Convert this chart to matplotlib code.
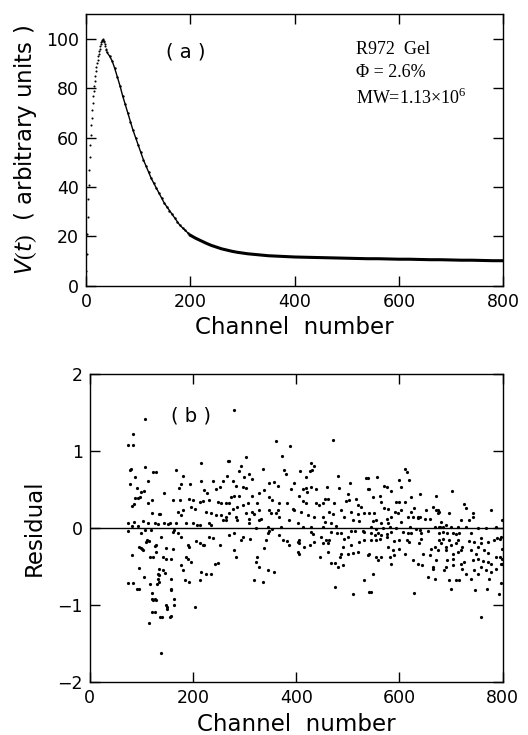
import numpy as np
import matplotlib
matplotlib.use("Agg")
import matplotlib.pyplot as plt

plt.rcParams['font.family'] = 'DejaVu Sans'
plt.rcParams['mathtext.fontset'] = 'custom'
plt.rcParams['mathtext.rm'] = 'Liberation Serif'
plt.rcParams['mathtext.it'] = 'DejaVu Sans:italic'

# ---- panel (a): measured V(t) ----
chan_rise = [0, 1, 2, 3, 4, 5, 6, 7, 8, 9, 10, 11, 12, 13, 14, 15, 16, 17, 18, 19, 20,
             21, 22, 23, 24, 25, 26, 27, 28, 29, 30, 31, 32, 33, 34, 35, 36, 37, 38, 39, 40]
v_rise = [6, 13, 21, 28, 35, 41, 47, 52, 57, 61, 65, 68, 71, 74, 77, 79, 81, 83, 85, 87, 88.5,
          90, 91.5, 93, 94, 95, 96, 97, 98, 98.5, 99, 99.5, 100, 99.5, 99, 98.5, 98, 97, 96, 95.5, 94.5]
chan_decay = [45, 50, 55, 60, 65, 70, 75, 80, 85, 90, 95, 100, 105, 110, 115, 120, 125, 130,
              135, 140, 145, 150, 155, 160, 165, 170, 175, 180, 185, 190, 195, 200]
v_decay = [93, 91, 88, 84.5, 81, 77, 73.5, 70, 66.5, 63, 60, 57, 54, 51, 48.5, 46, 43.5, 41.5,
           39.5, 37.5, 35.5, 33.5, 32, 30.5, 29, 27.5, 26, 24.5, 23.5, 22.5, 21.5, 20.5]
chan_tail = [210, 220, 230, 240, 250, 260, 270, 280, 290, 300, 310, 320, 330, 340, 350, 360,
             370, 380, 390, 400, 420, 440, 460, 480, 500, 520, 540, 560, 580, 600, 620, 640,
             660, 680, 700, 720, 740, 760, 780, 800]
v_tail = [19.3, 18.3, 17.3, 16.4, 15.7, 15.0, 14.5, 14.0, 13.6, 13.3, 13.0, 12.8, 12.6, 12.4,
          12.2, 12.1, 12.0, 11.9, 11.8, 11.7, 11.6, 11.5, 11.4, 11.3, 11.2, 11.1, 11.0, 11.0,
          10.9, 10.8, 10.8, 10.7, 10.6, 10.6, 10.5, 10.4, 10.4, 10.3, 10.2, 10.2]

# ---- panel (b): residuals, read segment by segment ----
ch_b1 = [107, 83, 75, 84, 77, 80, 107, 122, 128, 88, 113, 78, 92, 99, 106, 88, 94, 97, 120, 85,
         82, 113, 120, 136, 75, 86, 104, 112, 126, 132, 93, 81, 119, 107, 74, 99, 114, 111, 108, 129,
         126, 95, 99, 101, 103, 129, 117, 122, 81, 96, 134, 105, 134, 131, 74, 84, 91, 95, 117, 121,
         126, 129, 126, 115, 138, 121, 136, 121, 122]
res_b1 = [1.42, 1.22, 1.08, 1.08, 0.76, 0.77, 0.80, 0.73, 0.73, 0.66, 0.61, 0.57, 0.52, 0.47, 0.48,
          0.39, 0.39, 0.40, 0.36, 0.31, 0.29, 0.32, 0.19, 0.18, 0.06, 0.08, 0.09, 0.07, 0.06, 0.05,
          0.03, 0.03, -0.02, -0.02, -0.04, -0.06, -0.17, -0.16, -0.18, -0.22, -0.23, -0.24, -0.26,
          -0.27, -0.28, -0.31, -0.38, -0.38, -0.35, -0.52, -0.61, -0.64, -0.70, -0.72, -0.71, -0.71,
          -0.79, -0.79, -0.72, -0.84, -0.92, -0.93, -1.09, -1.23, -1.62, -1.09, -1.15, -0.92, -0.93]

ch_b2 = [216, 168, 180, 268, 266, 215, 239, 258, 144, 176, 172, 195, 222, 228, 245, 252, 161, 174,
         193, 200, 213, 219, 232, 248, 255, 264, 197, 203, 171, 180, 177, 226, 235, 245, 255, 264,
         258, 264, 135, 155, 151, 144, 168, 187, 200, 208, 213, 232, 235, 164, 161, 171, 176, 138,
         206, 213, 219, 222, 190, 193, 232, 239, 252, 148, 161, 142, 148, 158, 187, 190, 197, 177,
         180, 135, 142, 145, 216, 226, 213, 235, 242, 248, 157, 184, 193, 158, 157, 133, 133, 164,
         150, 164, 203, 140, 157, 147, 150, 155]
res_b2 = [0.84, 0.76, 0.68, 0.87, 0.68, 0.61, 0.61, 0.61, 0.45, 0.57, 0.52, 0.57, 0.50, 0.45, 0.51,
          0.53, 0.37, 0.37, 0.38, 0.37, 0.34, 0.35, 0.36, 0.34, 0.32, 0.32, 0.27, 0.25, 0.21, 0.23,
          0.17, 0.21, 0.19, 0.17, 0.17, 0.15, 0.10, 0.11, 0.18, 0.06, 0.05, 0.06, 0.06, 0.06, 0.06,
          0.04, 0.04, 0.06, 0.04, -0.03, -0.05, -0.07, -0.12, -0.11, -0.17, -0.19, -0.22, -0.22,
          -0.22, -0.25, -0.11, -0.13, -0.22, -0.26, -0.27, -0.38, -0.40, -0.40, -0.38, -0.40, -0.44,
          -0.48, -0.54, -0.53, -0.54, -0.58, -0.57, -0.59, -0.68, -0.60, -0.46, -0.45, -0.66, -0.68,
          -0.70, -0.79, -0.81, -0.59, -0.66, -0.92, -1.02, -1.00, -1.03, -1.15, -1.14, -1.00, -1.05,
          -1.15]

ch_b3 = [279, 361, 388, 372, 270, 303, 293, 290, 298, 309, 315, 335, 377, 380, 277, 283, 348, 357,
         364, 296, 303, 273, 280, 290, 315, 328, 337, 396, 390, 348, 354, 270, 296, 306, 325, 367,
         383, 277, 286, 328, 348, 364, 393, 396, 315, 319, 270, 283, 286, 303, 309, 332, 351, 361,
         367, 386, 309, 328, 345, 354, 370, 403, 322, 270, 280, 296, 293, 311, 345, 348, 367, 374,
         383, 386, 403, 403, 280, 283, 341, 338, 325, 322, 328, 345, 357, 319, 335]
res_b3 = [1.53, 1.13, 1.06, 0.94, 0.87, 0.92, 0.81, 0.74, 0.67, 0.70, 0.64, 0.77, 0.76, 0.70, 0.61,
          0.55, 0.58, 0.60, 0.55, 0.54, 0.52, 0.40, 0.42, 0.42, 0.42, 0.45, 0.49, 0.58, 0.51, 0.40,
          0.37, 0.32, 0.30, 0.33, 0.32, 0.32, 0.32, 0.25, 0.27, 0.24, 0.23, 0.24, 0.25, 0.23, 0.21,
          0.18, 0.19, 0.14, 0.11, 0.19, 0.12, 0.12, 0.19, 0.19, 0.14, 0.10, 0.06, 0.10, 0.02, -0.01,
          0.02, 0.06, 0.00, -0.09, -0.07, -0.12, -0.16, -0.14, -0.06, -0.04, -0.09, -0.16, -0.17,
          -0.22, -0.18, -0.31, -0.28, -0.38, -0.16, -0.26, -0.38, -0.44, -0.50, -0.54, -0.57, -0.68,
          -0.70]

ch_b4 = [471, 428, 434, 408, 426, 430, 419, 481, 535, 413, 419, 428, 439, 460, 482, 505, 539, 406,
         421, 413, 419, 439, 445, 451, 455, 461, 473, 500, 497, 503, 516, 519, 526, 409, 422, 435,
         464, 471, 486, 493, 506, 519, 532, 451, 455, 468, 477, 510, 522, 413, 429, 451, 506, 513,
         529, 532, 429, 468, 479, 487, 406, 432, 448, 458, 464, 493, 500, 522, 532, 406, 416, 426,
         434, 451, 461, 490, 506, 510, 519, 539, 406, 461, 447, 484, 487, 500, 468, 475, 481, 490,
         475, 510, 532, 542]
res_b4 = [1.15, 0.84, 0.81, 0.74, 0.74, 0.76, 0.67, 0.68, 0.65, 0.51, 0.52, 0.54, 0.51, 0.53, 0.52,
          0.58, 0.51, 0.42, 0.47, 0.35, 0.32, 0.32, 0.30, 0.32, 0.38, 0.38, 0.32, 0.44, 0.35, 0.37,
          0.38, 0.30, 0.27, 0.21, 0.17, 0.14, 0.21, 0.18, 0.24, 0.14, 0.21, 0.18, 0.19, 0.14, 0.08,
          0.06, 0.03, 0.11, 0.09, 0.02, 0.02, 0.01, -0.04, -0.04, -0.04, -0.05, -0.05, -0.05, -0.06,
          -0.07, -0.15, -0.08, -0.11, -0.15, -0.16, -0.14, -0.12, -0.18, -0.16, -0.20, -0.25, -0.22,
          -0.18, -0.20, -0.20, -0.25, -0.22, -0.32, -0.31, -0.35, -0.33, -0.31, -0.38, -0.38, -0.34,
          -0.34, -0.45, -0.45, -0.50, -0.48, -0.77, -0.85, -0.68, -0.83]

ch_b5 = [611, 615, 557, 540, 600, 618, 571, 576, 604, 542, 584, 549, 562, 623, 639, 671, 564, 594,
         600, 610, 571, 578, 629, 604, 591, 597, 623, 636, 639, 652, 665, 671, 675, 542, 551, 549,
         555, 565, 575, 578, 583, 604, 617, 626, 636, 649, 659, 545, 555, 568, 581, 594, 620, 633,
         639, 668, 678, 545, 552, 558, 565, 575, 584, 607, 617, 623, 642, 655, 544, 555, 562, 575,
         589, 600, 615, 618, 642, 637, 542, 555, 565, 558, 578, 581, 587, 589, 584, 600, 610, 626,
         636, 646, 644, 659, 662, 668, 671, 665, 655, 668, 665, 549, 544, 628]
res_b5 = [0.77, 0.73, 0.67, 0.65, 0.62, 0.62, 0.55, 0.53, 0.54, 0.51, 0.48, 0.40, 0.42, 0.41, 0.44,
          0.42, 0.34, 0.34, 0.34, 0.34, 0.26, 0.25, 0.26, 0.24, 0.21, 0.20, 0.21, 0.15, 0.14, 0.24,
          0.27, 0.23, 0.20, 0.19, 0.19, 0.09, 0.11, 0.06, 0.12, 0.07, 0.14, 0.08, 0.14, 0.15, 0.13,
          0.12, 0.12, 0.01, -0.01, 0.00, 0.02, 0.00, 0.01, -0.01, -0.02, 0.01, 0.02, -0.07, -0.09,
          -0.07, -0.09, -0.08, -0.05, -0.05, -0.07, -0.07, -0.07, -0.04, -0.15, -0.16, -0.14, -0.12,
          -0.17, -0.16, -0.16, -0.18, -0.14, -0.20, -0.33, -0.38, -0.38, -0.41, -0.25, -0.38, -0.29,
          -0.35, -0.46, -0.27, -0.33, -0.41, -0.46, -0.33, -0.48, -0.35, -0.27, -0.25, -0.42, -0.53,
          -0.64, -0.66, -0.51, -0.59, -0.83, -0.84]

ch_b6 = [701, 726, 729, 742, 742, 777, 697, 677, 674, 680, 719, 735, 677, 684, 690, 700, 713, 729,
         752, 768, 787, 799, 677, 684, 693, 703, 710, 716, 739, 758, 790, 797, 684, 697, 713, 677,
         680, 690, 700, 710, 722, 735, 745, 752, 758, 771, 784, 794, 674, 690, 703, 713, 719, 739,
         748, 764, 771, 787, 794, 799, 798, 693, 703, 719, 726, 742, 752, 761, 771, 777, 797, 799,
         690, 687, 703, 722, 745, 752, 758, 768, 777, 787, 697, 710, 716, 729, 739, 774, 797, 700,
         746, 770, 792, 758]
res_b6 = [0.48, 0.31, 0.26, 0.20, 0.15, 0.23, 0.19, 0.21, 0.24, 0.08, 0.10, 0.11, 0.02, 0.02, 0.035,
          0.02, 0.02, 0.02, 0.00, 0.00, 0.02, 0.10, -0.07, -0.05, -0.07, -0.07, -0.08, -0.07, -0.07,
          -0.13, -0.13, -0.11, -0.14, -0.15, -0.15, -0.16, -0.20, -0.25, -0.22, -0.20, -0.25, -0.17,
          -0.18, -0.24, -0.20, -0.18, -0.16, -0.14, -0.29, -0.29, -0.34, -0.31, -0.28, -0.29, -0.33,
          -0.29, -0.32, -0.38, -0.37, -0.40, -0.27, -0.41, -0.40, -0.46, -0.44, -0.42, -0.40, -0.43,
          -0.44, -0.46, -0.46, -0.47, -0.51, -0.55, -0.48, -0.53, -0.54, -0.59, -0.51, -0.55, -0.57,
          -0.53, -0.68, -0.68, -0.67, -0.59, -0.66, -0.66, -0.71, -0.79, -0.81, -0.79, -0.86, -1.16]

chan_b = ch_b1 + ch_b2 + ch_b3 + ch_b4 + ch_b5 + ch_b6
resid = res_b1 + res_b2 + res_b3 + res_b4 + res_b5 + res_b6


def style_axes(ax):
    ax.tick_params(direction='in', length=7, width=1, top=True, right=True,
                   labelsize=12.5, pad=5)
    for s in ax.spines.values():
        s.set_linewidth(1.0)


fig = plt.figure(figsize=(5.28, 7.35), dpi=100)

# top panel
ax1 = fig.add_axes([0.163, 0.611, 0.790, 0.370])
ax1.plot(chan_rise, v_rise, 'k.', ms=3, mew=0)
ax1.plot(chan_decay, v_decay, 'k.', ms=3.5, mew=0)
ax1.plot(chan_rise[-1:] + chan_decay + chan_tail, v_rise[-1:] + v_decay + v_tail,
         'k-', lw=1.0)
ax1.plot([chan_decay[-1]] + chan_tail, [v_decay[-1]] + v_tail, 'k-', lw=2.2)
ax1.set_xlim(0, 800)
ax1.set_ylim(0, 110)
ax1.set_xticks([0, 200, 400, 600, 800])
ax1.set_yticks([0, 20, 40, 60, 80, 100])
style_axes(ax1)
ax1.set_xlabel("Channel  number", fontsize=16.5, labelpad=4)
ax1.set_ylabel(r"$V(t)$  ( arbitrary units )", fontsize=16.5, labelpad=5)
ax1.text(0.24, 0.86, "( a )", transform=ax1.transAxes, fontsize=14, ha='center', va='center')
ax1.text(0.647, 0.9, "R972  Gel\n\u03a6 = 2.6%\nMW=1.13\u00d710$^{6}$",
         transform=ax1.transAxes, fontsize=13, family='Liberation Serif',
         ha='left', va='top', linespacing=1.45)

# bottom panel
ax2 = fig.add_axes([0.170, 0.072, 0.782, 0.419])
ax2.axhline(0, color='k', lw=1.0)
ax2.plot(chan_b, resid, 'k.', ms=4.6, mew=0)
ax2.set_xlim(0, 800)
ax2.set_ylim(-2, 2)
ax2.set_xticks([0, 200, 400, 600, 800])
ax2.set_yticks([-2, -1, 0, 1, 2])
ax2.set_yticklabels(['\u22122', '\u22121', '0', '1', '2'])
style_axes(ax2)
ax2.set_xlabel("Channel  number", fontsize=16.5, labelpad=4)
ax2.set_ylabel("Residual", fontsize=16.5, labelpad=8)
ax2.text(0.245, 0.865, "( b )", transform=ax2.transAxes, fontsize=14, ha='center', va='center')

fig.savefig("out.png", dpi=100)
